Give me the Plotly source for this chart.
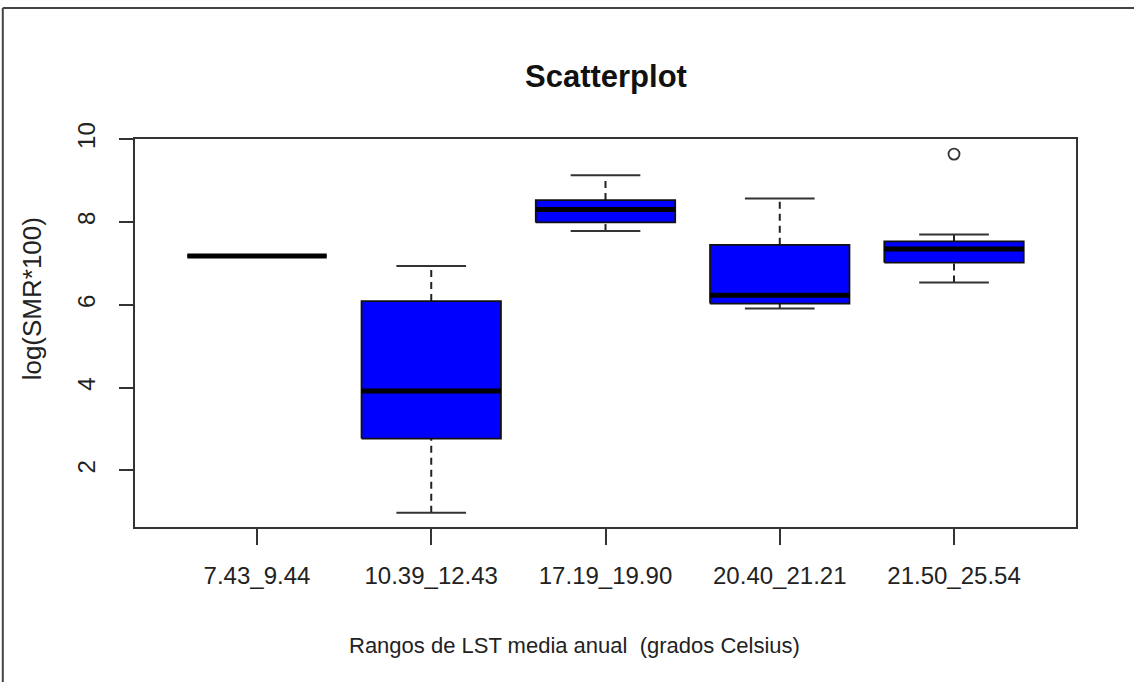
import plotly.graph_objects as go

# Rangos de LST media anual (grados Celsius) y resumen de log(SMR*100)
groups = ["7.43_9.44", "10.39_12.43", "17.19_19.90", "20.40_21.21", "21.50_25.54"]
whisker_low = [7.18, 0.98, 7.78, 5.91, 6.54]
q1 = [7.18, 2.77, 7.99, 6.03, 7.02]
median = [7.18, 3.92, 8.30, 6.23, 7.35]
q3 = [7.18, 6.09, 8.53, 7.45, 7.53]
whisker_high = [7.18, 6.94, 9.13, 8.57, 7.70]
outlier_group = ["21.50_25.54"]
outlier_value = [9.64]

y_ticks = [2, 4, 6, 8, 10]

FONT = "Liberation Sans, Arial, sans-serif"
BOX_HALF = 0.4
CAP_HALF = 0.2

pos = list(range(1, len(groups) + 1))

box_x, box_y = [], []
wh_x, wh_y = [], []
cap_x, cap_y = [], []
med_x, med_y = [], []
for p, lo, a, m, b, hi in zip(pos, whisker_low, q1, median, q3, whisker_high):
    box_x += [p - BOX_HALF, p + BOX_HALF, p + BOX_HALF, p - BOX_HALF, p - BOX_HALF, None]
    box_y += [a, a, b, b, a, None]
    wh_x += [p, p, None, p, p, None]
    wh_y += [lo, a, None, b, hi, None]
    cap_x += [p - CAP_HALF, p + CAP_HALF, None, p - CAP_HALF, p + CAP_HALF, None]
    cap_y += [lo, lo, None, hi, hi, None]
    med_x += [p - BOX_HALF, p + BOX_HALF, None]
    med_y += [m, m, None]

out_x = [pos[groups.index(g)] for g in outlier_group]

fig = go.Figure()
fig.add_trace(go.Scatter(x=wh_x, y=wh_y, mode="lines",
                         line=dict(color="#222222", width=2, dash="7px,5px"),
                         hoverinfo="skip"))
fig.add_trace(go.Scatter(x=cap_x, y=cap_y, mode="lines",
                         line=dict(color="#333333", width=2), hoverinfo="skip"))
fig.add_trace(go.Scatter(x=box_x, y=box_y, mode="lines", fill="toself",
                         fillcolor="#0000ff", line=dict(color="#111111", width=1.8),
                         hoverinfo="skip"))
fig.add_trace(go.Scatter(x=med_x, y=med_y, mode="lines",
                         line=dict(color="#000000", width=5), hoverinfo="skip"))
fig.add_trace(go.Scatter(x=out_x, y=outlier_value, mode="markers",
                         marker=dict(symbol="circle-open", size=11,
                                     color="#333333", line=dict(width=1.8)),
                         hoverinfo="skip"))

# R-style 4% padding below the data; top reaches the 10 tick
span = max(outlier_value) - min(whisker_low)
y_lo = min(whisker_low) - 0.04 * span
y_hi = max(max(outlier_value) + 0.04 * span, max(y_ticks) + 0.005)

fig.update_layout(
    width=1134, height=682,
    margin=dict(l=135, r=58, t=139, b=155),
    paper_bgcolor="white", plot_bgcolor="white",
    showlegend=False,
    font=dict(family=FONT, color="#222222"),
    xaxis=dict(
        range=[0.3, len(groups) + 0.7],
        tickvals=pos, ticktext=groups,
        ticks="outside", ticklen=16, tickwidth=1.8, tickcolor="#333333",
        showline=True, mirror=True, linecolor="#333333", linewidth=2,
        showgrid=False, zeroline=False,
        tickfont=dict(size=24, family=FONT, color="#222222"),
        ticklabelstandoff=10,
    ),
    yaxis=dict(
        range=[y_lo, y_hi],
        tickvals=y_ticks, ticktext=[str(v) for v in y_ticks],
        tickangle=-90,
        ticks="outside", ticklen=14, tickwidth=1.8, tickcolor="#333333",
        showline=True, mirror=True, linecolor="#333333", linewidth=2,
        showgrid=False, zeroline=False,
        tickfont=dict(size=24, family=FONT, color="#222222"),
        ticklabelstandoff=14,
    ),
    annotations=[
        dict(text="<b>Scatterplot</b>", xref="paper", yref="paper",
             x=0.5, y=1.16, xanchor="center", yanchor="middle",
             showarrow=False, font=dict(size=31, family=FONT, color="#111111")),
        dict(text="log(SMR*100)", xref="paper", yref="paper",
             x=-0.11, y=0.588, xanchor="center", yanchor="middle", textangle=-90,
             showarrow=False, font=dict(size=26, family=FONT, color="#222222")),
        dict(text="Rangos de LST media anual  (grados Celsius)", xref="paper", yref="paper",
             x=0.467, y=-0.305, xanchor="center", yanchor="middle",
             showarrow=False, font=dict(size=22, family=FONT, color="#222222")),
    ],
    shapes=[
        dict(type="line", xref="paper", yref="paper", x0=-0.1405, x1=1.07,
             y0=1.3376, y1=1.3376, line=dict(color="#444444", width=2)),
        dict(type="line", xref="paper", yref="paper", x0=-0.1405, x1=-0.1405,
             y0=1.3376, y1=-0.42, line=dict(color="#444444", width=2)),
    ],
)

fig.write_html("out.html")
